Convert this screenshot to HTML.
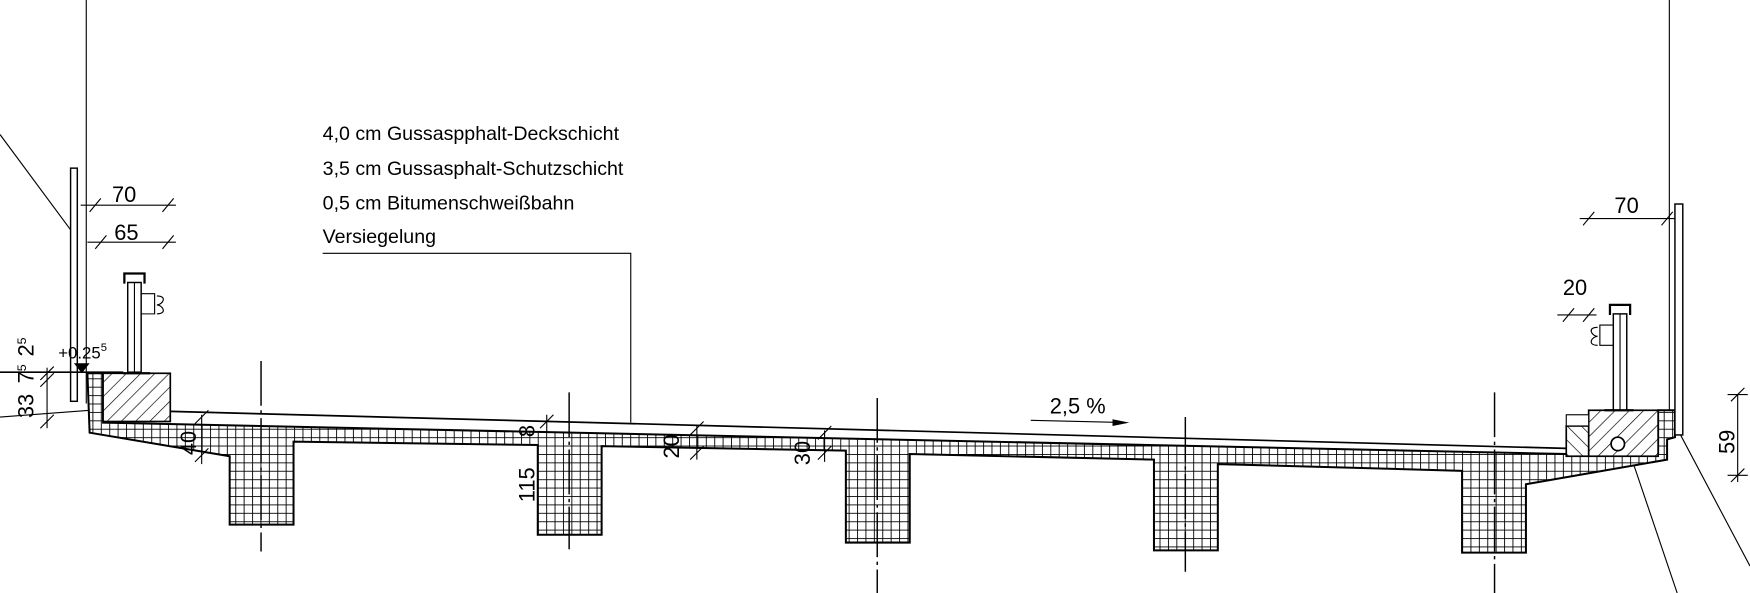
<!DOCTYPE html>
<html><head><meta charset="utf-8"><style>
html,body{margin:0;padding:0;background:#fff;width:1750px;height:593px;overflow:hidden}
svg{display:block}
text{font-family:"Liberation Sans",sans-serif;fill:#000}
</style></head><body>
<svg width="1750" height="593" viewBox="0 0 1562 529" preserveAspectRatio="none" xmlns="http://www.w3.org/2000/svg">
<defs>
<pattern id="grid" width="7.5" height="7.5" patternUnits="userSpaceOnUse">
<rect width="7.5" height="7.5" fill="#fff"/>
<path d="M0 0H7.5M0 0V7.5" stroke="#000" stroke-width="1.6"/>
</pattern>
<pattern id="hatch" width="9" height="9" patternUnits="userSpaceOnUse" patternTransform="rotate(45)">
<rect width="9" height="9" fill="#fff"/>
<path d="M0 0V9" stroke="#000" stroke-width="1.2"/>
</pattern>
<pattern id="hatch2" width="9" height="9" patternUnits="userSpaceOnUse" patternTransform="rotate(-45)">
<rect width="9" height="9" fill="#fff"/>
<path d="M0 0V9" stroke="#000" stroke-width="1.2"/>
</pattern>
</defs>
<g stroke="#000" fill="none" stroke-width="1">
<line x1="77" y1="0" x2="77" y2="360"/>
<line x1="1490" y1="0" x2="1490" y2="385"/>
<line x1="0" y1="120" x2="63" y2="205"/>
<line x1="1455" y1="405" x2="1497" y2="529"/>
<line x1="1500" y1="388" x2="1562" y2="505"/>
<path fill="url(#grid)" stroke-width="1.8" d="M78 333 H92 V377 L1398 405 H1480 V366 H1495 V390 L1488 392 V410 L1362 432 V493 H1305 V420 L1087 414 V491 H1030 V410 L812 405 V484 H755 V402 L537 398 V477 H480 V397 L262 394 V468 H205 V407 L80 386 Z"/>
<rect x="92" y="333" width="60" height="43" fill="url(#hatch)" stroke-width="1.5"/>
<rect x="1418" y="366" width="62" height="41" fill="url(#hatch)" stroke-width="1.5"/>
<rect x="1398" y="380" width="20" height="27" fill="url(#hatch2)" stroke-width="1.5"/>
<rect x="1398" y="370" width="20" height="10" fill="#fff"/>
<circle cx="1444" cy="396" r="6" fill="#fff" stroke-width="1.5"/>
<line x1="152" y1="367" x2="1398" y2="400" stroke-width="1.5"/>
<line x1="0" y1="372" x2="80" y2="366"/>
<rect x="63" y="150" width="6" height="208" fill="#fff" stroke-width="1.3"/>
<rect x="1495" y="182" width="7" height="206" fill="#fff" stroke-width="1.3"/>
<rect x="114" y="252" width="12" height="80" fill="#fff" stroke-width="1.3"/>
<line x1="120" y1="252" x2="120" y2="332"/>
<path d="M111 253 V244 H129 V253" stroke-width="2"/>
<path d="M126 262 H138 V280 H126 M140 264 C150 264 145 272 140 272 C145 272 150 280 140 280"/>
<rect x="1440" y="280" width="12" height="86" fill="#fff" stroke-width="1.3"/>
<line x1="1446" y1="280" x2="1446" y2="366"/>
<path d="M1437 281 V272 H1455 V281" stroke-width="2"/>
<path d="M1440 290 H1428 V308 H1440 M1426 292 C1416 292 1421 300 1426 300 C1421 300 1416 308 1426 308"/>
<line x1="110" y1="333" x2="134" y2="333" stroke-width="2"/>
<line x1="1432" y1="366" x2="1458" y2="366" stroke-width="2"/>
<g stroke-dasharray="40 4 3 4" stroke-width="1.3">
<line x1="233" y1="322" x2="233" y2="492"/>
<line x1="508" y1="350" x2="508" y2="490"/>
<line x1="783" y1="355" x2="783" y2="529"/>
<line x1="1058" y1="372" x2="1058" y2="510"/>
<line x1="1334" y1="350" x2="1334" y2="529"/>
</g>
<path d="M288 226 H563 V377"/>
<line x1="72" y1="183" x2="157" y2="183"/><path d="M80 189 L90 177 M145 189 L155 177"/>
<line x1="78" y1="216" x2="157" y2="216"/><path d="M85 222 L95 210 M145 222 L155 210"/>
<line x1="1410" y1="195" x2="1495" y2="195"/><path d="M1413 201 L1423 189 M1483 201 L1493 189"/>
<line x1="1390" y1="281" x2="1425" y2="281"/><path d="M1395 287 L1405 275 M1413 287 L1423 275"/>
<line x1="42" y1="328" x2="42" y2="382"/><path d="M36 339 L48 327 M36 345 L48 333 M36 382 L48 370"/>
<line x1="0" y1="332" x2="110" y2="332" stroke-width="1.5"/>
<line x1="180" y1="370" x2="180" y2="414"/><path d="M174 378 L186 366 M174 412 L186 400"/>
<line x1="488" y1="370" x2="488" y2="385"/><path d="M482 382 L494 370"/>
<line x1="622" y1="380" x2="622" y2="410"/><path d="M616 388 L628 376 M616 410 L628 398"/>
<line x1="736" y1="384" x2="736" y2="412"/><path d="M730 392 L742 380 M730 410 L742 398"/>
<line x1="1551" y1="352" x2="1551" y2="430"/><path d="M1545 358 L1557 346 M1545 430 L1557 418 M1542 352 H1560 M1542 424 H1560"/>
<line x1="920" y1="375" x2="1005" y2="377"/>
</g>
<path d="M66 324 H80 L73 333 Z"/>
<path d="M1008 377 L993 374 L993 380 Z"/>
<g font-size="17.5">
<text x="288" y="125">4,0 cm Gussaspphalt-Deckschicht</text>
<text x="288" y="156">3,5 cm Gussasphalt-Schutzschicht</text>
<text x="288" y="187">0,5 cm Bitumenschweißbahn</text>
<text x="288" y="217">Versiegelung</text>
</g>
<g font-size="19.5">
<text x="100" y="180">70</text>
<text x="102" y="214">65</text>
<text x="1441" y="190">70</text>
<text x="1395" y="263">20</text>
<text x="937" y="369">2,5 %</text>
<text x="52" y="320" font-size="15">+0.25<tspan font-size="10" dy="-7">5</tspan></text>
<text transform="translate(30 373) rotate(-90)">33</text>
<text transform="translate(30 342) rotate(-90)">7<tspan font-size="11" dy="-7">5</tspan></text>
<text transform="translate(30 318) rotate(-90)">2<tspan font-size="11" dy="-7">5</tspan></text>
<text transform="translate(175 406) rotate(-90)">40</text>
<text transform="translate(477 390) rotate(-90)">8</text>
<text transform="translate(477 448) rotate(-90)">115</text>
<text transform="translate(606 409) rotate(-90)">20</text>
<text transform="translate(723 415) rotate(-90)">30</text>
<text transform="translate(1548 405) rotate(-90)">59</text>
<text transform="translate(1577 330) rotate(-90)">88</text>
</g>
</svg>
</body></html>
